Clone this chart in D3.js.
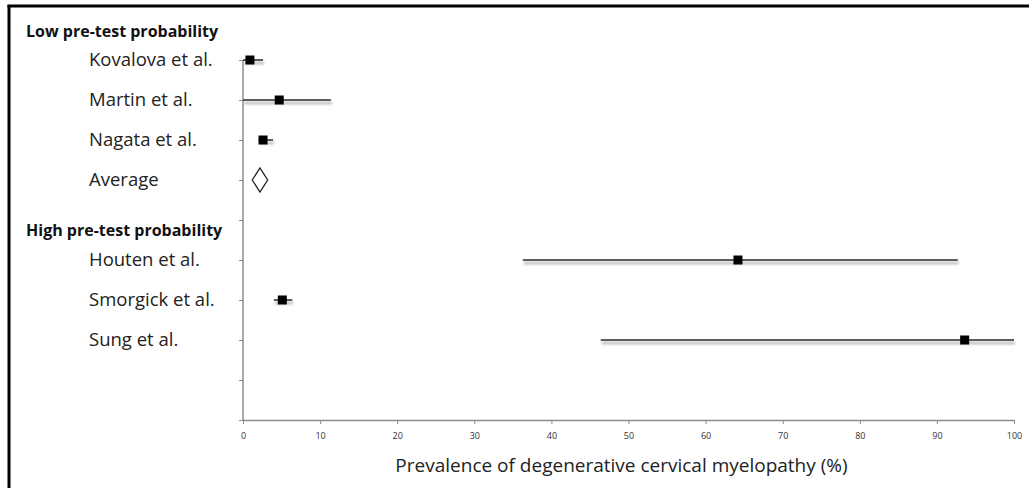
<!DOCTYPE html>
<html><head><meta charset="utf-8">
<script src="https://cdn.jsdelivr.net/npm/d3@7"></script>
<style>body{margin:0;background:#fff}svg{display:block}</style>
</head><body>
<svg id="c" width="1029" height="488"></svg>
<script>
// Data
const rows = ["Kovalova et al.", "Martin et al.", "Nagata et al.", "Average", "gap1", "Houten et al.", "Smorgick et al.", "Sung et al.", "gap2", "gap3"];
const studies = ["Kovalova et al.", "Martin et al.", "Nagata et al.", "Houten et al.", "Smorgick et al.", "Sung et al."];
const estimate = [0.9, 4.7, 2.6, 64.2, 5.1, 93.6];
const lower = [0, 0, 2.0, 36.3, 4.0, 46.4];
const upper = [2.6, 11.4, 3.9, 92.7, 6.4, 100];
const averageLabel = "Average";
const averageEst = 2.2, averageLo = 1.2, averageHi = 3.2;
const groupHeaders = ["Low pre-test probability", "High pre-test probability"];
const xTicks = [0, 10, 20, 30, 40, 50, 60, 70, 80, 90, 100];
const xTitle = "Prevalence of degenerative cervical myelopathy (%)";

const svg = d3.select("#c");
const defs = svg.append("defs");
const f = defs.append("filter").attr("id", "sh").attr("filterUnits", "userSpaceOnUse")
  .attr("x", 0).attr("y", 0).attr("width", 1029).attr("height", 488);
f.append("feGaussianBlur").attr("stdDeviation", 1.2);

// frame
svg.append("line").attr("x1", 9).attr("x2", 9).attr("y1", 5).attr("y2", 488).attr("stroke", "#000").attr("stroke-width", 3);
svg.append("line").attr("x1", 7.5).attr("x2", 1029).attr("y1", 6).attr("y2", 6).attr("stroke", "#000").attr("stroke-width", 3);

const x = d3.scaleLinear().domain([0, 100]).range([243, 1014]);
const y = d3.scalePoint().domain(rows).range([60, 420]);

const axisColor = "#8c8c8c";
// y axis
const ya = svg.append("g").attr("transform", "translate(243,0)")
  .call(d3.axisLeft(y).tickSize(4).tickFormat(""));
ya.select(".domain").attr("stroke", axisColor).attr("stroke-width", 1.5).attr("d", "M0,60V420");
ya.selectAll(".tick line").attr("stroke", axisColor).attr("stroke-width", 1);

// x axis
const xa = svg.append("g").attr("transform", "translate(0,420)")
  .call(d3.axisBottom(x).tickValues(xTicks).tickSize(4).tickSizeOuter(0).tickPadding(9));
xa.select(".domain").attr("stroke", axisColor).attr("stroke-width", 1.5);
xa.selectAll(".tick line").attr("stroke", axisColor).attr("stroke-width", 1);
xa.selectAll(".tick text").attr("font-family", "Open Sans, sans-serif").attr("font-size", 9).attr("fill", "#333");

// labels
const font = "Open Sans, sans-serif";
svg.selectAll("text.lab").data(studies.slice(0, 3).concat([averageLabel], studies.slice(3)))
  .join("text").attr("class", "lab")
  .attr("x", 89).attr("y", d => y(d)).attr("dy", "0.35em")
  .attr("font-family", font).attr("font-size", 18.5).attr("fill", "#222").text(d => d);

svg.append("text").attr("x", 26).attr("y", 31).attr("dy", "0.35em")
  .attr("font-family", font).attr("font-weight", "bold").attr("font-size", 16).attr("fill", "#111").text(groupHeaders[0]);
svg.append("text").attr("x", 26).attr("y", (y("gap1") + y("Houten et al.")) / 2 - 10).attr("dy", "0.35em")
  .attr("font-family", font).attr("font-weight", "bold").attr("font-size", 16).attr("fill", "#111").text(groupHeaders[1]);

// error bars
const data = studies.map((s, i) => ({ s, e: estimate[i], lo: lower[i], hi: upper[i] }));
const g = svg.append("g");
g.selectAll("line.shadow").data(data).join("line").attr("class", "shadow")
  .attr("x1", d => x(d.lo) + 1).attr("x2", d => x(d.hi) + 1)
  .attr("y1", d => y(d.s) + 3).attr("y2", d => y(d.s) + 3)
  .attr("stroke", "#c4c4c4").attr("stroke-width", 3).attr("filter", "url(#sh)");
g.selectAll("line.ci").data(data).join("line").attr("class", "ci")
  .attr("x1", d => x(d.lo)).attr("x2", d => x(d.hi))
  .attr("y1", d => y(d.s)).attr("y2", d => y(d.s))
  .attr("stroke", "#2a2a2a").attr("stroke-width", 1.5);
g.selectAll("rect.pt").data(data).join("rect").attr("class", "pt")
  .attr("x", d => x(d.e) - 4.5).attr("y", d => y(d.s) - 4.5)
  .attr("width", 9).attr("height", 9).attr("fill", "#000");

// diamond
const ay = y(averageLabel), h = 12;
svg.append("path")
  .attr("d", `M${x(averageLo)},${ay}L${x(averageEst)},${ay - h}L${x(averageHi)},${ay}L${x(averageEst)},${ay + h}Z`)
  .attr("fill", "#fff").attr("stroke", "#222").attr("stroke-width", 1.3);

// x title
svg.append("text").attr("x", (x(0) + x(100)) / 2 - 7).attr("y", 465).attr("dy", "0.35em")
  .attr("text-anchor", "middle").attr("font-family", font).attr("font-size", 19).attr("fill", "#222").text(xTitle);
</script>
</body></html>
